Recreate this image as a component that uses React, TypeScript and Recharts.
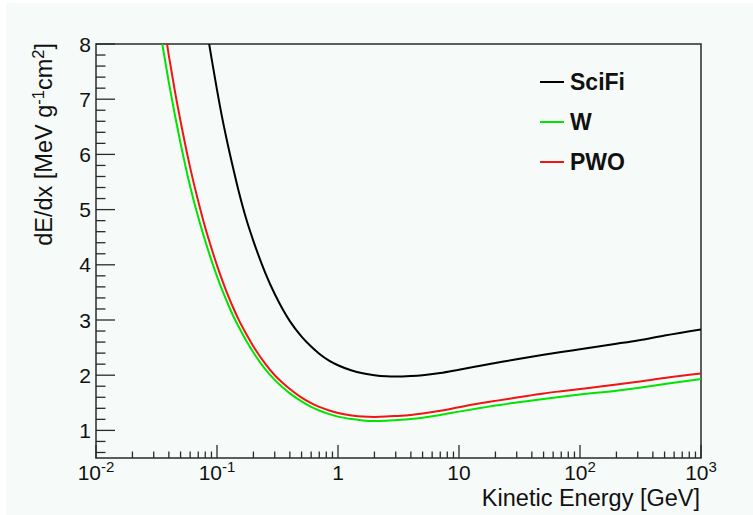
import React from 'react';
import { LineChart, Line, XAxis, YAxis, ReferenceArea } from 'recharts';

// Kinetic energy grid [GeV]
const energies = [
  0.03, 0.035, 0.04, 0.045, 0.05, 0.06, 0.07, 0.08, 0.09, 0.1, 0.11, 0.12, 0.135, 0.15, 0.175, 0.2, 0.25, 0.3, 0.35, 0.4,
  0.5, 0.6, 0.7, 0.85, 1, 1.3, 1.6, 2, 2.5, 3, 4, 5, 7, 10, 15, 20, 30, 50, 70, 100, 200, 300, 500, 1000,
];

// dE/dx [MeV g^-1 cm^2]
const sciFiValues = [
  null, null, null, null, null, null, 9.4, 8.45, 7.75, 7.17, 6.68, 6.28, 5.78, 5.36, 4.82, 4.43, 3.86, 3.47, 3.19, 2.98,
  2.7, 2.52, 2.39, 2.26, 2.18, 2.085, 2.035, 2.0, 1.98, 1.975, 1.985, 2.0, 2.04, 2.1, 2.17, 2.22, 2.29, 2.37, 2.42, 2.47, 2.57, 2.63, 2.72, 2.83,
];
const tungstenValues = [
  9.02, 8.05, 7.3, 6.7, 6.2, 5.42, 4.86, 4.43, 4.08, 3.79, 3.55, 3.35, 3.09, 2.89, 2.62, 2.41, 2.11, 1.915, 1.775, 1.67,
  1.525, 1.425, 1.36, 1.295, 1.25, 1.205, 1.18, 1.17, 1.175, 1.185, 1.205, 1.23, 1.28, 1.34, 1.405, 1.45, 1.505, 1.57, 1.61, 1.65, 1.72, 1.77, 1.84, 1.93,
];
const pwoValues = [
  9.66, 8.61, 7.79, 7.13, 6.6, 5.76, 5.15, 4.67, 4.3, 3.99, 3.73, 3.51, 3.24, 3.02, 2.74, 2.52, 2.21, 2.0, 1.86, 1.75,
  1.595, 1.495, 1.425, 1.36, 1.315, 1.27, 1.25, 1.245, 1.25, 1.26, 1.28, 1.305, 1.355, 1.42, 1.49, 1.535, 1.595, 1.67, 1.71, 1.75, 1.83, 1.88, 1.95, 2.03,
];

const seriesNames = ['SciFi', 'W', 'PWO'];
const seriesKeys = ['sciFi', 'w', 'pwo'];
const seriesColors = ['#000000', '#00e400', '#f01414'];

const xMajorTicks = [0.01, 0.1, 1, 10, 100, 1000];
const xTickLabels = [
  { base: '10', exp: '-2' },
  { base: '10', exp: '-1' },
  { base: '1', exp: '' },
  { base: '10', exp: '' },
  { base: '10', exp: '2' },
  { base: '10', exp: '3' },
];
const xMinorMultipliers = [2, 3, 4, 5, 6, 7, 8, 9];
const yMajorTicks = [1, 2, 3, 4, 5, 6, 7, 8];

const xTicks: number[] = [];
xMajorTicks.forEach((m, i) => {
  xTicks.push(m);
  if (i < xMajorTicks.length - 1) {
    xMinorMultipliers.forEach((k) => xTicks.push(Number((k * m).toPrecision(4))));
  }
});
const yTicks: number[] = Array.from({ length: 38 }, (_, i) => Math.round((0.6 + i * 0.2) * 10) / 10);

const data = energies.map((e, i) => ({
  e,
  sciFi: sciFiValues[i],
  w: tungstenValues[i],
  pwo: pwoValues[i],
}));

const FONT = '"Liberation Sans", Arial, Helvetica, sans-serif';
const AXIS = '#2a2a2a';
const TEXT = '#111111';

function XTick(props: any) {
  const { x, y, payload } = props;
  const v = payload.value;
  const idx = xMajorTicks.findIndex((m) => Math.abs(m - v) / m < 1e-9);
  const major = idx >= 0;
  return (
    <g>
      <line x1={x} x2={x} y1={y} y2={y - (major ? 13 : 6.5)} stroke={AXIS} strokeWidth={1.3} />
      {major && (
        <text x={x} y={y + 22} textAnchor="middle" fontFamily={FONT} fontSize={21} fill={TEXT}>
          <tspan>{xTickLabels[idx].base}</tspan>
          {xTickLabels[idx].exp ? (
            <tspan dy={-8} fontSize={15}>
              {xTickLabels[idx].exp}
            </tspan>
          ) : null}
        </text>
      )}
    </g>
  );
}

function YTick(props: any) {
  const { x, y, payload } = props;
  const v = payload.value;
  const major = yMajorTicks.some((m) => Math.abs(m - v) < 1e-6);
  return (
    <g>
      <line x1={x} x2={x + (major ? 19 : 9.5)} y1={y} y2={y} stroke={AXIS} strokeWidth={1.3} />
      {major && (
        <text x={x - 5} y={y + 7.5} textAnchor="end" fontFamily={FONT} fontSize={21} fill={TEXT}>
          {String(Math.round(v))}
        </text>
      )}
    </g>
  );
}

const legendRows = [82, 122, 162];

export default function App() {
  return (
    <div style={{ position: 'absolute', left: 0, top: 0, width: 753, height: 515, background: '#ffffff', overflow: 'hidden' }}>
      <div style={{ position: 'absolute', left: 6, top: 3, right: 0, bottom: 0, background: '#f6faf8' }} />
      <div style={{ position: 'absolute', left: 0, top: 0 }}>
        <LineChart width={753} height={515} data={data} margin={{ top: 44, right: 52, bottom: 27, left: 36 }}>
          <XAxis
            dataKey="e"
            type="number"
            scale="log"
            domain={[0.01, 1000]}
            allowDataOverflow
            ticks={xTicks}
            interval={0}
            tickSize={0}
            tickMargin={0}
            tickLine={false}
            axisLine={false}
            height={30}
            tick={(p: any) => <XTick {...p} />}
          />
          <YAxis
            type="number"
            domain={[0.5, 8]}
            allowDataOverflow
            ticks={yTicks}
            interval={0}
            tickSize={0}
            tickMargin={0}
            tickLine={false}
            axisLine={false}
            width={60}
            tick={(p: any) => <YTick {...p} />}
          />
          <ReferenceArea
            x1={0.01}
            x2={1000}
            y1={0.5}
            y2={8}
            fill="none"
            fillOpacity={0}
            stroke={AXIS}
            strokeWidth={1.5}
            ifOverflow="visible"
          />
          {seriesKeys.map((k, i) => (
            <Line
              key={k}
              dataKey={k}
              name={seriesNames[i]}
              type="monotone"
              stroke={seriesColors[i]}
              strokeWidth={2}
              dot={false}
              activeDot={false}
              isAnimationActive={false}
            />
          ))}
        </LineChart>
      </div>
      <svg
        width={753}
        height={515}
        style={{ position: 'absolute', left: 0, top: 0, pointerEvents: 'none' }}
      >
        <text x={700} y={506} textAnchor="end" fontFamily={FONT} fontSize={23.5} fill={TEXT}>
          Kinetic Energy [GeV]
        </text>
        <text transform="translate(52,43) rotate(-90)" textAnchor="end" fontFamily={FONT} fontSize={23.5} fill={TEXT}>
          dE/dx [MeV g
          <tspan dy={-8} fontSize={16.5}>-1</tspan>
          <tspan dy={8}>cm</tspan>
          <tspan dy={-8} fontSize={16.5}>2</tspan>
          <tspan dy={8}>]</tspan>
        </text>
        {seriesNames.map((n, i) => (
          <g key={n}>
            <line x1={540} x2={564} y1={legendRows[i]} y2={legendRows[i]} stroke={seriesColors[i]} strokeWidth={2} />
            <text x={570} y={legendRows[i] + 8} fontFamily={FONT} fontSize={23} fontWeight="bold" fill={TEXT}>
              {n}
            </text>
          </g>
        ))}
      </svg>
    </div>
  );
}
